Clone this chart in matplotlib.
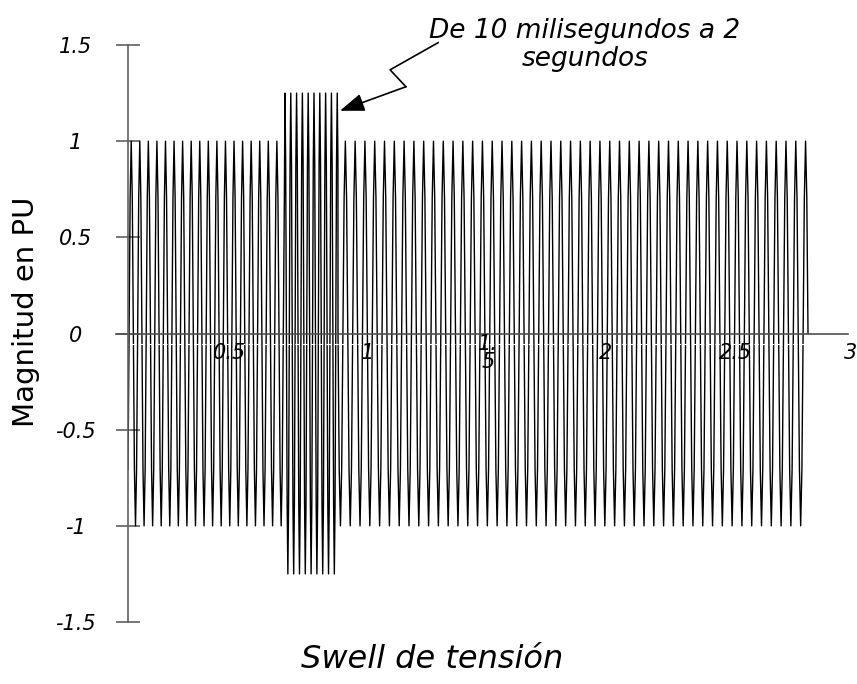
import numpy as np
import matplotlib.pyplot as plt

# tramos de la onda: (inicio, fin, periodo, amplitud)
t_inicio = [0.0, 0.654, 0.875]
t_fin = [0.654, 0.875, 2.838]
periodos = [0.0357, 0.0242, 0.0408]
amplitudes = [1.0, 1.25, 1.0]
muestras_por_periodo = 8

y_ticks = [1.5, 1, 0.5, 0, -0.5, -1, -1.5]
y_labels = ['1.5', '1', '0.5', '0', '-0.5', '-1', '-1.5']
x_labels = ['0.5', '1', '1.\n5', '2', '2.5', '3']
x_label_pos = [0.425, 1.0, 1.5, 1.99, 2.53, 3.01]

# flecha quebrada de la anotacion
flecha_x = [1.292, 1.092, 1.158]
flecha_y = [1.512, 1.371, 1.283]
punta = (0.883, 1.158)

paso_fase = 2 * np.pi / muestras_por_periodo
t_all = []
y_all = []
fase = np.pi / 2 - 2 * np.pi * 0.0125 / periodos[0]
for a, b, p, amp in zip(t_inicio, t_fin, periodos, amplitudes):
    fase = np.round(fase / paso_fase) * paso_fase
    t = np.arange(a, b, p / muestras_por_periodo)
    ph = fase + 2 * np.pi * (t - a) / p
    t_all.append(t)
    y_all.append(amp * np.sin(ph))
    fase = ph[-1] + paso_fase
t_all = np.concatenate(t_all)
y_all = np.concatenate(y_all)

fig = plt.figure(figsize=(8.57, 6.84), dpi=100)
ax = fig.add_axes([128 / 857, 62 / 684, 720 / 857, 577 / 684])
ax.set_xlim(0, 3)
ax.set_ylim(-1.5, 1.5)

ax.plot(t_all, y_all, color='black', lw=1.0)

for s in ['top', 'right', 'bottom']:
    ax.spines[s].set_visible(False)
ax.spines['left'].set_color('#606060')
ax.spines['left'].set_linewidth(1.2)

ax.plot([-0.05, 3.0], [0, 0], color='#505050', lw=1.2, clip_on=False)
ax.plot([-0.05, 3.0], [-0.052, -0.052], color='white', lw=0.8, ls=(0, (4, 3)), clip_on=False)

ax.set_yticks(y_ticks)
ax.set_yticklabels(y_labels, fontstyle='italic', fontsize=15, ha='center')
ax.tick_params(axis='y', direction='inout', length=17.3, width=1.2, color='#606060', pad=29)
ax.set_xticks([])

for xp, lab in zip(x_label_pos, x_labels):
    ax.text(xp, -0.1, lab, fontstyle='italic', fontsize=15, ha='center', va='center',
            linespacing=0.9)

ax.set_ylabel('Magnitud en PU', fontsize=21)
ax.yaxis.set_label_coords(-88 / 720, (622 - 312) / 577)
fig.text(432 / 857, 1 - 660 / 684, 'Swell de tensión', fontstyle='italic', fontsize=23,
         ha='center', va='center')

ax.text(1.904, 1.5, 'De 10 milisegundos a 2\nsegundos', fontstyle='italic', fontsize=19,
        ha='center', va='center', linespacing=1.15)
ax.plot(flecha_x, flecha_y, color='black', lw=1.2, clip_on=False)
ax.annotate('', xy=punta, xytext=(flecha_x[-1], flecha_y[-1]),
            arrowprops=dict(arrowstyle='-|>,head_length=1.5,head_width=0.55', color='black', lw=1.2,
                            shrinkA=0, shrinkB=0),
            annotation_clip=False)

plt.savefig('out.png')
